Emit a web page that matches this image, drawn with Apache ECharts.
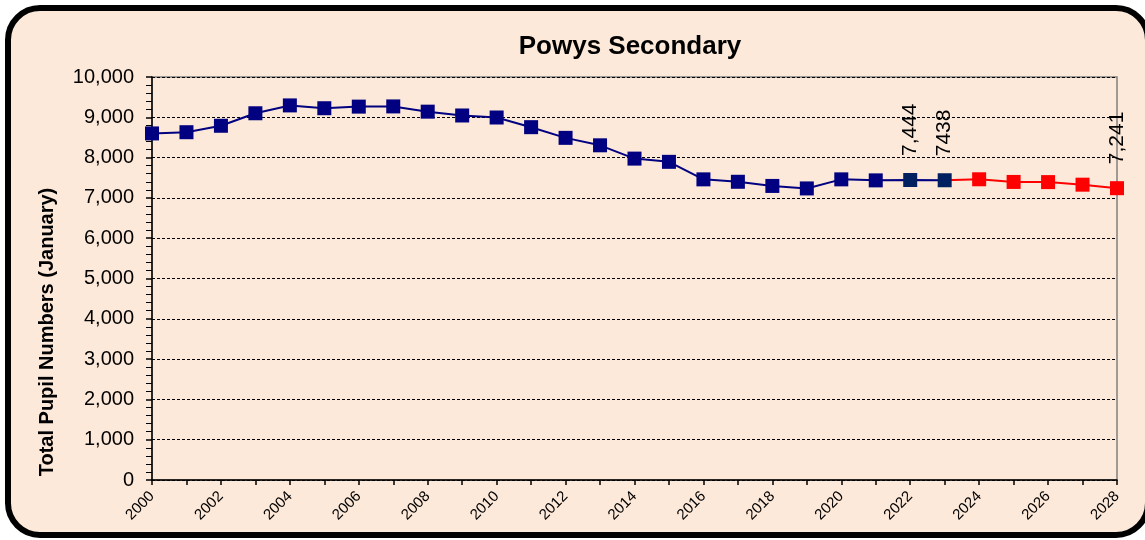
<!DOCTYPE html>
<html><head><meta charset="utf-8">
<script src="https://cdn.jsdelivr.net/npm/echarts@6/dist/echarts.min.js"></script>
<style>html,body{margin:0;padding:0;background:#fff}#c{width:1145px;height:540px}</style>
</head><body><div id="c"></div>
<script>
const years = ['2000','2001','2002','2003','2004','2005','2006','2007','2008','2009','2010','2011','2012','2013','2014','2015','2016','2017','2018','2019','2020','2021','2022','2023','2024','2025','2026','2027','2028'];
const actual = [8600,8630,8790,9100,9295,9225,9265,9270,9140,9045,8995,8755,8490,8305,7975,7895,7460,7400,7297,7235,7460,7435,7444,7438];
const forecast = [7438,7462,7396,7392,7328,7241];
const labelTexts = {'2022':'7,444','2023':'7438','2028':'7,241'};

const navy = '#000080', dark = '#002060', red = '#FF0000';
const FONT = 'Liberation Sans, Arial, sans-serif';
const lbl = (t) => ({show:true, formatter:t, rotate:90, position:'top', distance:17, align:'left', verticalAlign:'middle', color:'#000', fontSize:21, fontFamily:FONT});

const actualData = actual.map((v,i)=>{
  const y = years[i];
  const d = {value:v};
  if (y==='2022'||y==='2023') d.itemStyle = {color:dark};
  if (labelTexts[y]) d.label = lbl(labelTexts[y]);
  return d;
});
const fcData = years.map(()=>null);
const startIdx = years.indexOf('2023');
forecast.forEach((v,k)=>{
  const y = years[startIdx+k];
  const d = {value:v};
  if (k===0) { d.symbol='none'; }
  if (k>0 && labelTexts[y]) d.label = lbl(labelTexts[y]);
  fcData[startIdx+k] = d;
});

const chart = echarts.init(document.getElementById('c'));
chart.setOption({
  backgroundColor:'#ffffff',
  animation:false,
  textStyle:{fontFamily:FONT},
  graphic:[
    {type:'rect', z:-10, shape:{x:8,y:8,width:1140,height:527,r:32}, style:{fill:'#FDE9D9', stroke:'#000', lineWidth:6}},
    {type:'text', z:10, x:630, y:47, style:{text:'Powys Secondary', font:'bold 26px '+FONT, fill:'#000', align:'center', verticalAlign:'middle'}},
    {type:'text', z:10, x:47, y:332, rotation:Math.PI/2, style:{text:'Total Pupil Numbers (January)', font:'bold 20px '+FONT, fill:'#000', align:'center', verticalAlign:'middle'}}
  ],
  grid:{left:152, right:28, top:77, bottom:60, show:true, borderColor:'#808080', borderWidth:1.5, backgroundColor:'transparent'},
  xAxis:{
    type:'category', data:years, boundaryGap:false,
    axisLine:{lineStyle:{color:'#000', width:1.5}},
    axisTick:{show:true, interval:0, inside:false, length:5, lineStyle:{color:'#000', width:1.5}},
    axisLabel:{interval:1, rotate:45, fontSize:15, color:'#000', margin:14},
    splitLine:{show:false}
  },
  yAxis:{
    type:'value', min:0, max:10000, interval:1000,
    axisLine:{show:true, lineStyle:{color:'#000', width:1.5}},
    axisTick:{show:true, length:6, lineStyle:{color:'#000', width:1.5}},
    minorTick:{show:true, splitNumber:5, length:6, lineStyle:{color:'#000', width:1}},
    axisLabel:{fontSize:20, color:'#000', margin:18, formatter:(v)=>v.toLocaleString('en-US')},
    splitLine:{show:true, lineStyle:{color:'#000', type:[3,2], width:1}}
  },
  series:[
    {type:'line', data:actualData, symbol:'rect', symbolSize:14, lineStyle:{color:navy, width:2}, itemStyle:{color:navy}, z:3},
    {type:'line', data:fcData, symbol:'rect', symbolSize:14, lineStyle:{color:red, width:2}, itemStyle:{color:red}, z:2}
  ]
});
</script></body></html>
